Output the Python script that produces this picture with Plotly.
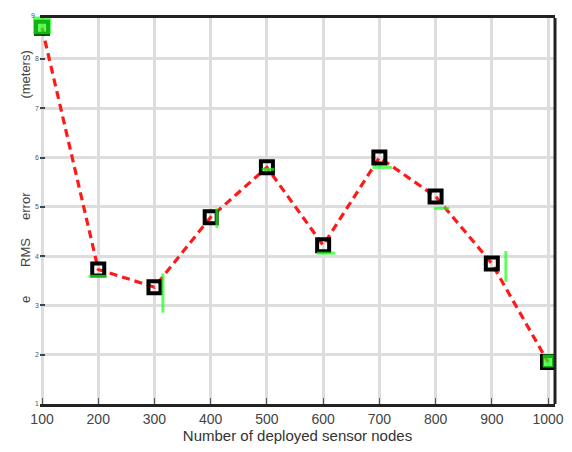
import plotly.graph_objects as go

# data
nodes = [100, 200, 300, 400, 500, 600, 700, 800, 900, 1000]
rms_error = [8.63, 3.73, 3.37, 4.79, 5.80, 4.22, 6.00, 5.21, 3.85, 1.85]

# green error marks
green_x = [100, 199, 315, 411, 502, 605, 705, 811, 925, 1002]
green_y = [8.68, 3.59, 3.25, 4.77, 5.76, 4.06, 5.80, 4.97, 3.79, 1.87]
green_sym = ["square", "line-ew", "line-ns", "line-ns", "line-ew",
             "line-ew", "line-ew", "line-ew", "line-ns", "square"]
green_size = [15, 13, 28, 14, 9, 13, 14, 11, 22, 10]

x_ticks = [100, 200, 300, 400, 500, 600, 700, 800, 900, 1000]
y_ticks = [1, 2, 3, 4, 5, 6, 7, 8]

fig = go.Figure()
fig.add_trace(go.Scatter(
    x=nodes, y=rms_error, mode="lines",
    line=dict(color="#ff1a1a", width=3.2, dash="8px,5px"),
    cliponaxis=False, hoverinfo="skip"))
fig.add_trace(go.Scatter(
    x=nodes, y=rms_error, mode="markers",
    marker=dict(symbol="square-open", size=12, color="black",
                line=dict(width=4, color="black")),
    cliponaxis=False))
fig.add_trace(go.Scatter(
    x=green_x, y=green_y, mode="markers",
    marker=dict(symbol=green_sym, size=green_size, color="#1aff1a",
                line=dict(width=3, color="#1aff1a")),
    cliponaxis=False))

fig.update_layout(
    width=564, height=444,
    margin=dict(l=32, r=17, t=10, b=48),
    paper_bgcolor="white", plot_bgcolor="white",
    showlegend=False,
    font=dict(family="Liberation Sans, Arial, sans-serif", color="#444"),
    xaxis=dict(
        range=[96.4, 1012.4], tickvals=x_ticks,
        ticktext=[str(v) for v in x_ticks],
        automargin=False,
        showgrid=True, gridcolor="#dddddd", gridwidth=3,
        showline=True, linecolor="#222", linewidth=3, mirror=True,
        ticks="inside", ticklen=6, tickcolor="#555", tickwidth=1,
        tickfont=dict(size=14, color="#444"),
        title=dict(text="Number of deployed sensor nodes",
                   font=dict(size=15, color="#333"), standoff=4),
        zeroline=False),
    yaxis=dict(
        range=[1.0, 8.83], tickvals=y_ticks,
        ticktext=[str(v) for v in y_ticks],
        automargin=False,
        showgrid=True, gridcolor="#dddddd", gridwidth=3,
        showline=False,
        ticks="inside", ticklen=5, tickcolor="#444", tickwidth=1.5,
        tickfont=dict(size=7, color="#555"),
        zeroline=False),
    shapes=[dict(type="line", xref="paper", yref="paper",
                 x0=1, x1=1, y0=0, y1=1,
                 line=dict(color="#222", width=3))],
    annotations=[
        dict(text="e\u00a0\u00a0\u00a0\u00a0\u00a0\u00a0\u00a0\u00a0RMS\u00a0\u00a0\u00a0\u00a0\u00a0error"
                  "\u00a0\u00a0\u00a0\u00a0\u00a0\u00a0\u00a0\u00a0\u00a0\u00a0\u00a0\u00a0\u00a0\u00a0\u00a0\u00a0\u00a0\u00a0\u00a0\u00a0\u00a0\u00a0\u00a0\u00a0\u00a0\u00a0(meters)",
             textangle=-90, xref="paper", yref="paper",
             x=-0.048, y=0.59, showarrow=False,
             font=dict(size=13, color="#444")),
        dict(text="9", xref="paper", yref="paper", x=-0.022, y=1.02,
             showarrow=False, font=dict(size=7, color="#555")),
    ],
)

fig.write_html("out.html")
